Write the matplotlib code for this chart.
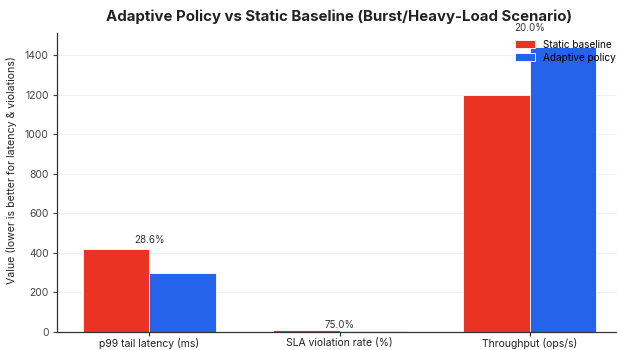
import matplotlib
matplotlib.use("Agg")
import matplotlib.pyplot as plt
import numpy as np

plt.rcParams['font.family'] = ['Inter', 'DejaVu Sans']

categories = ["p99 tail latency (ms)", "SLA violation rate (%)", "Throughput (ops/s)"]
static_vals = [420, 8, 1200]
adaptive_vals = [300, 2, 1440]
improvements = ["28.6%", "75.0%", "20.0%"]

red = "#EA3323"
blue = "#2563EB"

fig, ax = plt.subplots(figsize=(6.17, 3.5), dpi=100)
x = np.arange(len(categories))
w = 0.35
ax.bar(x - w/2, static_vals, w, color=red, edgecolor="white", linewidth=0.6, label="Static baseline", zorder=2)
ax.bar(x + w/2, adaptive_vals, w, color=blue, edgecolor="white", linewidth=0.6, label="Adaptive policy", zorder=2)

for i, lab in enumerate(improvements):
    top = max(static_vals[i], adaptive_vals[i])
    ax.text(x[i], top * 1.05, lab, ha="center", va="bottom", fontsize=7, color="#333333", zorder=3)

ax.set_xticks(x)
ax.set_xticklabels(categories, fontsize=7.5, color="#222222")
ax.tick_params(axis="y", labelsize=7.5, colors="#444444", length=3, pad=3)
ax.tick_params(axis="x", colors="#222222", length=3, pad=1.5)
ax.set_ylabel("Value (lower is better for latency & violations)", fontsize=7.6, color="#222222")
ax.yaxis.set_label_coords(-0.071, 0.543)
ax.set_title("Adaptive Policy vs Static Baseline (Burst/Heavy-Load Scenario)", fontsize=10.8, fontweight="bold", color="#222222", pad=9)
ax.yaxis.grid(True, color="#f0f0f0", linewidth=0.8, zorder=0)
ax.set_axisbelow(True)
for s in ["top", "right"]:
    ax.spines[s].set_visible(False)
for s in ["left", "bottom"]:
    ax.spines[s].set_color("#333333")
    ax.spines[s].set_linewidth(0.9)
ax.legend(loc="upper right", frameon=False, fontsize=7.2, borderaxespad=0.25, handlelength=2.0, handleheight=0.8, labelspacing=0.3)

fig.subplots_adjust(left=0.0925, right=1.008, top=0.905, bottom=0.052)
fig.savefig("out.png", dpi=100)
